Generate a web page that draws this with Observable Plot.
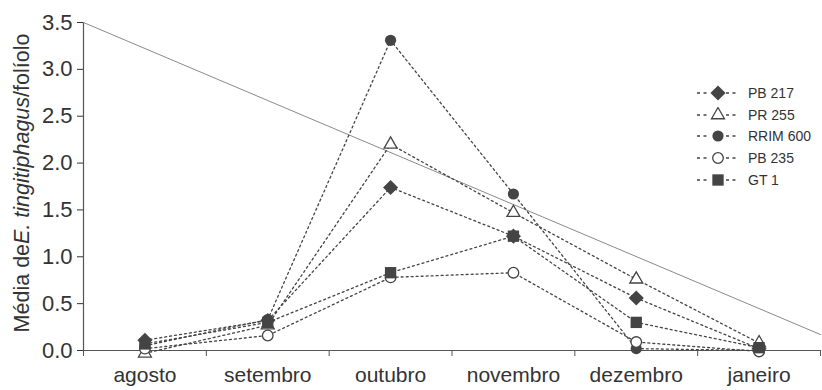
<!DOCTYPE html>
<html><head><meta charset="utf-8">
<script src="https://cdn.jsdelivr.net/npm/d3@7"></script>
<script src="https://cdn.jsdelivr.net/npm/@observablehq/plot@0.6"></script>
<style>
body{margin:0;background:#fff;}
#wrap{position:relative;width:822px;height:390px;font-family:"Liberation Sans",Arial,sans-serif;}
#legend{position:absolute;left:697px;top:82px;font-size:14px;color:#333;}
#legend .row{height:21.7px;display:flex;align-items:center;}
#legend svg{margin-right:9px;}
</style>
</head><body><div id="wrap"><div id="legend"></div></div>
<script>
// ---- data ----
const months = ["agosto","setembro","outubro","novembro","dezembro","janeiro"];
const seriesNames = ["PB 217","PR 255","RRIM 600","PB 235","GT 1"];
const pb217   = [0.11, 0.32, 1.74, 1.22, 0.56, 0.02];
const pr255   = [-0.03, 0.27, 2.20, 1.47, 0.76, 0.08];
const rrim600 = [0.05, 0.33, 3.31, 1.67, 0.02, 0.00];
const pb235   = [0.02, 0.16, 0.78, 0.83, 0.09, -0.01];
const gt1     = [0.07, 0.30, 0.83, 1.22, 0.30, 0.03];
const yTicks = [0, 0.5, 1, 1.5, 2, 2.5, 3, 3.5];
const diagonalY = [3.5, 0.17];

// ---- styles ----
const ink = "#444";
const styles = [
  {symbol: "diamond2", fill: ink, stroke: "none", r: 6.8},
  {symbol: "triangle", fill: "white", stroke: ink, r: 4.8},
  {symbol: "circle", fill: ink, stroke: "none", r: 5.6},
  {symbol: "circle", fill: "white", stroke: ink, r: 5.3},
  {symbol: "square", fill: ink, stroke: "none", r: 6.4}
];
const values = [pb217, pr255, rrim600, pb235, gt1];

const seriesData = values.map((vals, s) => vals.map((v, i) => ({i, v, name: seriesNames[s]})));
const diag = [{x: -0.5, y: diagonalY[0]}, {x: months.length - 0.5, y: diagonalY[1]}];
const halfTicks = d3.range(months.length + 1).map(k => k - 0.5);

const marks = [
  Plot.ruleY([0], {stroke: "#555", strokeWidth: 1.2}),
  Plot.ruleX([-0.5], {stroke: "#555", strokeWidth: 1.2}),
  Plot.axisY({ticks: yTicks, tickFormat: d => d.toFixed(1), tickSize: 6, tickPadding: 5, label: null, color: "#333", fontSize: 22}),
  Plot.axisX({ticks: d3.range(months.length), tickFormat: i => months[i], tickSize: 0, tickPadding: 17, label: null, color: "#333"}),
  Plot.axisX({ticks: halfTicks, tickFormat: () => "", tickSize: 6, label: null, stroke: "#555"}),
  Plot.line(diag, {x: "x", y: "y", stroke: "#8a8a8a", strokeWidth: 1})
];
seriesData.forEach(d => {
  marks.push(Plot.line(d, {x: "i", y: "v", stroke: ink, strokeWidth: 1.3, strokeDasharray: "2,3"}));
});
seriesData.forEach((d, s) => {
  const st = styles[s];
  marks.push(Plot.dot(d, {x: "i", y: "v", symbol: st.symbol, fill: st.fill, stroke: st.stroke, strokeWidth: 1.3, r: st.r}));
});

const chart = Plot.plot({
  width: 822, height: 390,
  marginLeft: 83, marginRight: 2, marginTop: 22, marginBottom: 40,
  x: {type: "linear", domain: [-0.5, months.length - 0.5]},
  y: {domain: [0, 3.5]},
  style: {fontSize: "21px", fontFamily: "'Liberation Sans', Arial, sans-serif", color: "#333", background: "white"},
  marks
});

// y-axis title with italic species name
const lbl = d3.select(chart).append("text")
  .attr("transform", "translate(29,183) rotate(-90)")
  .attr("text-anchor", "middle")
  .attr("fill", "#333")
  .style("font-size", "21.5px")
  .style("font-family", "'Liberation Sans', Arial, sans-serif");
lbl.append("tspan").text("Média de");
lbl.append("tspan").attr("font-style", "italic").text("E. tingitiphagus");
lbl.append("tspan").text("/folíolo");

const wrap = document.getElementById("wrap");
wrap.insertBefore(chart, wrap.firstChild);

// legend
const legend = d3.select("#legend");
seriesNames.forEach((name, s) => {
  const st = styles[s];
  const row = legend.append("div").attr("class", "row");
  const sv = row.append("svg").attr("width", 42).attr("height", 16);
  [[0, 13], [29, 42]].forEach(([a, b]) => {
    sv.append("line").attr("x1", a).attr("x2", b).attr("y1", 8).attr("y2", 8)
      .attr("stroke", ink).attr("stroke-width", 1.3).attr("stroke-dasharray", "3,3.5");
  });
  const sym = {diamond2: d3.symbolDiamond2, triangle: d3.symbolTriangle, circle: d3.symbolCircle, square: d3.symbolSquare}[st.symbol];
  sv.append("path").attr("transform", "translate(21,8)")
    .attr("d", d3.symbol(sym, Math.PI * st.r * st.r)())
    .attr("fill", st.fill).attr("stroke", st.stroke).attr("stroke-width", 1.3);
  row.append("span").text(name);
});
</script>
</body></html>
